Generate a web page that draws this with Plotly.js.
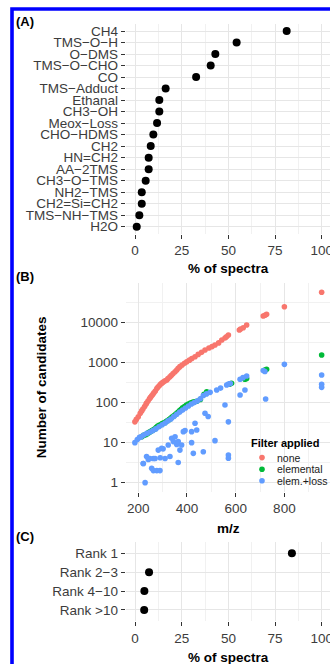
<!DOCTYPE html>
<html>
<head>
<meta charset="utf-8">
<script src="https://cdn.plot.ly/plotly-3.0.1.min.js"></script>
<style>
html,body{margin:0;padding:0;background:#fff;}
#chart{width:330px;height:664px;}
</style>
</head>
<body>
<div id="chart"></div>
<script>
// ---------- Panel A: neutral losses ----------
const lossLabels = ["CH4","TMS−O−H","O−DMS","TMS−O−CHO","CO","TMS−Adduct","Ethanal","CH3−OH","Meox−Loss","CHO−HDMS","CH2","HN=CH2","AA−2TMS","CH3−O−TMS","NH2−TMS","CH2=Si=CH2","TMS−NH−TMS","H2O"];
const lossPct = [81.2, 54.4, 43.0, 40.5, 32.7, 16.4, 13.0, 13.0, 11.8, 9.8, 8.4, 7.3, 7.3, 5.7, 3.6, 3.6, 2.3, 0.9];

// ---------- Panel B: number of candidates vs m/z ----------
const mzNone = [186,192,200,208,214,219,226,232,234,240,246,250,255,260,264,270,276,281,287,292,298,304,310,317,322,330,336,343,351,358,364,371,380,390,399,410,420,433,446,460,474,490,503,515,530,543,556,562,570,615,620,631,645,713,720,727,800,953];
const candNone = [33,38,44,54,62,69,80,92,98,110,125,135,148,162,175,195,225,245,268,290,310,330,350,367,400,440,480,530,590,650,720,790,870,960,1050,1150,1260,1400,1600,1800,2050,2300,2500,2750,3100,3650,4100,4400,4880,6500,6900,7400,8650,14500,15200,16000,24800,56800];

const mzElem = [214,220,226,232,238,244,250,256,262,268,274,280,286,292,298,304,310,316,322,328,334,340,346,352,358,364,370,376,382,390,398,406,414,422,430,440,455,470,481,576,583,638,645,720,727,953];
const candElem = [14,15,15.5,16,17,18,19,20,21,22,24,26,27,28,30,31,32,34,36,38,41,44,47,50,54,58,63,68,74,80,87,92,97,101,104,108,120,160,187,290,305,385,400,650,680,1550];

const mzLoss = [186,196,205,212,222,235,248,260,272,285,298,310,322,334,346,358,370,382,394,406,418,430,442,455,467,480,495,522,538,563,570,578,618,630,645,713,720,800,953,953,953,
  220,221,228,234,241,248,255,262,262,269,276,282,289,290,296,302,310,323,330,337,344,351,358,364,364,371,378,385,392,419,419,426,433,440,467,474,487,515,556,570,570,570,618,638,723];
const candLoss = [10,12,13.5,14,15.5,17,18.5,20,22,25,28,31,35,39,45,51,58,65,73,82,92,100,110,125,150,165,180,206,230,275,290,300,382,420,460,630,600,903,490,286,240,
  3,3,1,4.5,3.8,4,2.3,2,4,4,2,6.5,2,4.2,7.2,7,4,8.7,4.5,12.8,10.6,14,9,10.6,3.2,6.5,8.7,18.8,20,10,18.8,5.4,30.5,20.6,5.9,54,45,11.2,87,33,4.9,4.1,155,206,123];

const filterNames = ["none","elemental","elem.+loss"];
const filterColors = ["#F8766D","#00BA38","#619CFF"];

// ---------- Panel C: rank of correct candidate ----------
const rankLabels = ["Rank 1","Rank 2−3","Rank 4−10","Rank >10"];
const rankPct = [84, 7.5, 5, 4.9];

// tick values
const pctTicks = [0,25,50,75,100];
const pctMinor = [12.5,37.5,62.5,87.5];
const mzTicks = [200,400,600,800,1000];
const mzMinor = [300,500,700,900];
const candTicks = [1,10,100,1000,10000];
const candMinor = [3.1623,31.623,316.23,3162.3,31623];

// ---------- layout helpers (pixel -> paper) ----------
const W = 330, H = 664;
const px = v => v / W;
const py = v => 1 - v / H;

const FONT = '"Liberation Sans", Arial, Helvetica, sans-serif';
const tickFont = {family: FONT, size: 13.5, color: '#3c3c3c'};
const gridMajor = '#e6e6e6';
const gridMinor = '#f1f1f1';

function xAxisPct(anchor){
  return {
    domain:[px(125.7),1], range:[-5,104.4], anchor:anchor,
    tickmode:'array', tickvals:pctTicks, ticktext:pctTicks.map(String),
    ticks:'outside', ticklen:4, tickcolor:'#333', tickwidth:1,
    showgrid:true, gridcolor:gridMajor, gridwidth:1,
    minor:{tickmode:'array', tickvals:pctMinor, showgrid:true, gridcolor:gridMinor, gridwidth:1, ticks:''},
    zeroline:false, showline:false, tickfont:tickFont, ticklabeloverflow:'allow', fixedrange:true
  };
}
function yAxisCat(domain, cats, anchor){
  return {domain:domain, type:'category', categoryorder:'array', categoryarray:cats,
    range:[cats.length-0.4,-0.6], anchor:anchor,
    tickmode:'array', tickvals:cats, ticktext:cats,
    ticks:'outside', ticklen:4, tickcolor:'#333', tickwidth:1, tickfont:tickFont,
    showgrid:true, gridcolor:gridMajor, zeroline:false, showline:false, fixedrange:true};
}

const traces = [
  {type:'scatter', mode:'markers', x:lossPct, y:lossLabels, xaxis:'x', yaxis:'y',
   marker:{color:'#000', size:8}, showlegend:false, hoverinfo:'x+y'},
];
for (let i=0;i<3;i++){
  const xs = [mzNone, mzElem, mzLoss][i];
  const ys = [candNone, candElem, candLoss][i];
  traces.push({type:'scatter', mode:'markers', name:filterNames[i], x:xs, y:ys, xaxis:'x2', yaxis:'y2',
    marker:{color:filterColors[i], size:5.6}, showlegend:false});
}
traces.push({type:'scatter', mode:'markers', x:rankPct, y:rankLabels, xaxis:'x3', yaxis:'y3',
  marker:{color:'#000', size:8}, showlegend:false});

const annotations = [];
function txt(text, x, y, opts){
  annotations.push(Object.assign({text:text, x:px(x), y:py(y), xref:'paper', yref:'paper',
    showarrow:false, xanchor:'center', yanchor:'middle', borderpad:0,
    font:{family:FONT, size:13.5, color:'#000'}}, opts||{}));
}
txt('<b>(A)</b>', 15, 21.7, {xanchor:'left', font:{family:FONT,size:13,color:'#000'}});
txt('<b>(B)</b>', 15, 276, {xanchor:'left', font:{family:FONT,size:13,color:'#000'}});
txt('<b>(C)</b>', 15, 536.5, {xanchor:'left', font:{family:FONT,size:13,color:'#000'}});
txt('<b>% of spectra</b>', 228.3, 268);
txt('<b>m/z</b>', 228.3, 528);
txt('<b>% of spectra</b>', 228.3, 657);
txt('<b>Number of candidates</b>', 41.7, 387.5, {textangle:-90});
// legend
txt('<b>Filter applied</b>', 250, 443, {xanchor:'left', font:{family:FONT,size:11,color:'#000'}});
const legY = [457.6, 469.2, 480.8];
const shapes = [];
for (let i=0;i<3;i++){
  txt(filterNames[i], 276, legY[i], {xanchor:'left', font:{family:FONT,size:10.5,color:'#1a1a1a'}});
  shapes.push({type:'circle', xref:'paper', yref:'paper', xsizemode:'pixel', ysizemode:'pixel',
    xanchor:px(262), yanchor:py(legY[i]), x0:-2.8, x1:2.8, y0:-2.8, y1:2.8,
    fillcolor:filterColors[i], line:{width:0}});
}
// blue frame (open at right and bottom, as cropped)
shapes.push({type:'rect', xref:'paper', yref:'paper', x0:px(12), x1:px(400), y0:py(720), y1:py(9),
  line:{color:'#0000ff', width:3.6}, fillcolor:'rgba(0,0,0,0)', layer:'above'});

const layout = {
  width:W, height:H, margin:{l:0,r:0,t:0,b:0}, paper_bgcolor:'#fff', plot_bgcolor:'#fff',
  font:{family:FONT}, showlegend:false,
  xaxis: xAxisPct('y'),
  yaxis: yAxisCat([py(233.6), py(24.1)], lossLabels, 'x'),
  xaxis2: {domain:[px(125.7),1], range:[148.3,987.3], anchor:'y2',
    tickmode:'array', tickvals:mzTicks, ticktext:mzTicks.map(String),
    ticks:'outside', ticklen:4, tickcolor:'#333', tickwidth:1, tickfont:tickFont,
    showgrid:true, gridcolor:gridMajor,
    minor:{tickmode:'array', tickvals:mzMinor, showgrid:true, gridcolor:gridMinor, gridwidth:1, ticks:''},
    zeroline:false, showline:false, fixedrange:true},
  yaxis2: {domain:[py(492.2), py(282.8)], type:'log', range:[-0.238,4.992], anchor:'x2',
    tickmode:'array', tickvals:candTicks, ticktext:candTicks.map(String),
    ticks:'outside', ticklen:4, tickcolor:'#333', tickwidth:1, tickfont:tickFont,
    showgrid:true, gridcolor:gridMajor,
    minor:{tickmode:'array', tickvals:candMinor, showgrid:true, gridcolor:gridMinor, gridwidth:1, ticks:''},
    zeroline:false, showline:false, fixedrange:true},
  xaxis3: xAxisPct('y3'),
  yaxis3: yAxisCat([py(621.3), py(542)], rankLabels, 'x3'),
  annotations: annotations,
  shapes: shapes
};

Plotly.newPlot('chart', traces, layout, {displayModeBar:false, staticPlot:true});
</script>
</body>
</html>
